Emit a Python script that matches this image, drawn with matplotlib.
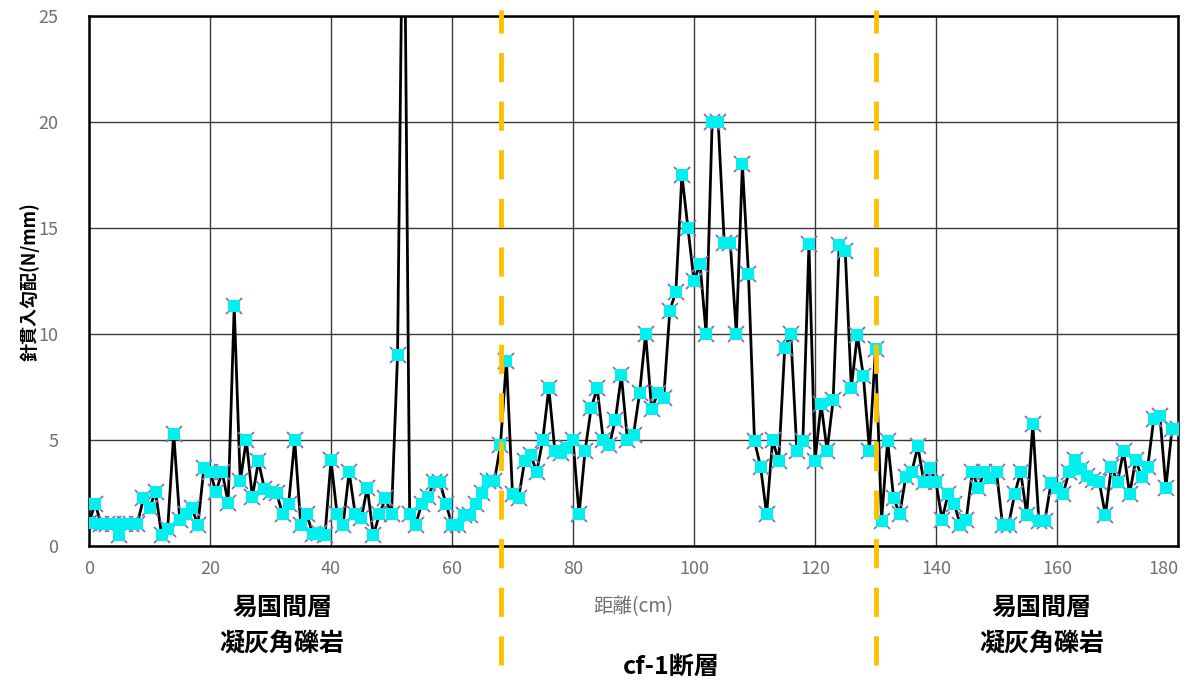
import matplotlib
matplotlib.use("Agg")
import matplotlib.pyplot as plt
import matplotlib.transforms as mtransforms

# ---- data ----
distance = list(range(0, 181))
gradient = [
    1.1, 2.0, 1.05, 1.05, 1.05, 0.5, 1.05, 1.05, 1.05, 2.25,
    1.8, 2.55, 0.5, 0.8, 5.3, 1.25, 1.5, 1.8, 1.0, 3.7,
    3.5, 2.55, 3.5, 2.05, 11.3, 3.05, 5.0, 2.3, 4.0, 2.7,
    2.55, 2.5, 1.5, 2.0, 5.0, 1.0, 1.5, 0.55, 0.6, 0.5,
    4.05, 1.5, 1.0, 3.5, 1.5, 1.3, 2.75, 0.5, 1.5, 2.25,
    1.5, 9.0, 35.0, 1.5, 1.0, 2.0, 2.3, 3.0, 3.0, 2.0,
    1.0, 1.0, 1.45, 1.45, 2.0, 2.5, 3.05, 3.05, 4.75, 8.75,
    2.45, 2.25, 4.0, 4.3, 3.5, 5.0, 7.45, 4.5, 4.4, 4.6,
    5.0, 1.5, 4.5, 6.5, 7.45, 5.0, 4.75, 5.95, 8.05, 5.0,
    5.25, 7.2, 10.0, 6.45, 7.2, 7.0, 11.1, 12.0, 17.5, 15.0,
    12.5, 13.3, 10.0, 20.0, 20.0, 14.3, 14.3, 10.0, 18.0, 12.85,
    4.95, 3.75, 1.5, 5.0, 4.0, 9.35, 10.0, 4.5, 4.95, 14.25,
    4.0, 6.7, 4.5, 6.9, 14.2, 13.9, 7.45, 9.95, 8.0, 4.5,
    9.3, 1.2, 4.95, 2.25, 1.5, 3.25, 3.5, 4.7, 3.0, 3.7,
    3.0, 1.25, 2.45, 2.0, 1.0, 1.25, 3.5, 2.75, 3.5, 3.2,
    3.5, 1.0, 1.0, 2.45, 3.5, 1.45, 5.75, 1.2, 1.2, 2.95,
    2.75, 2.45, 3.5, 4.05, 3.65, 3.3, 3.1, 3.0, 1.45, 3.75,
    3.0, 4.5, 2.45, 4.05, 3.25, 3.75, 6.0, 6.15, 2.75, 5.5,
    5.5,
]
x_ticks = [0, 20, 40, 60, 80, 100, 120, 140, 160, 180]
y_ticks = [0, 5, 10, 15, 20, 25]
boundaries = [68.1, 130.1]
zone_labels_left = ["易国間層", "凝灰角礫岩"]
zone_labels_right = ["易国間層", "凝灰角礫岩"]
fault_label = "cf-1断層"
x_label = "距離(cm)"
y_label = "針貫入勾配(N/mm)"

JP = ["Noto Sans CJK JP", "DejaVu Sans"]
plt.rcParams["font.family"] = JP

fig = plt.figure(figsize=(11.89, 6.82), dpi=100)
ax = fig.add_axes([89 / 1189, 1 - 546 / 682, (1178 - 89) / 1189, (546 - 16) / 682])

ax.plot(distance, gradient, color="black", lw=2.0, zorder=3, clip_on=True)
ax.plot(distance, gradient, ls="none", marker="x", ms=12, mew=1.3,
        color="#8A6BB0", zorder=4)
ax.plot(distance, gradient, ls="none", marker="s", ms=8.5, mew=0,
        color="#00F0F0", zorder=5)

ax.set_xlim(0, 180)
ax.set_ylim(0, 25)
ax.set_xticks(x_ticks)
ax.set_yticks(y_ticks)
ax.grid(True, color="#3a3a3a", lw=1.0)
ax.set_axisbelow(True)
for s in ax.spines.values():
    s.set_color("black")
    s.set_linewidth(1.8)
ax.tick_params(length=0, labelsize=13, labelcolor="#707070", pad=10)
ax.tick_params(axis="y", pad=22)
last = ax.get_xticklabels()[-1]
last.set_horizontalalignment("right")
last.set_x(0)

# axis labels
ax.text(0.5, -0.115, x_label, transform=ax.transAxes, ha="center", va="center",
        fontsize=14, color="#707070")
fig.text(30 / 1189, 1 - 282 / 682, y_label, rotation=90, ha="center", va="center",
         fontsize=13, fontweight="bold", color="black")

# boundaries
trans = mtransforms.blended_transform_factory(ax.transData, ax.transAxes)
for b in boundaries:
    ax.plot([b, b], [-0.225, 1.012], transform=trans, color="#FFC000", lw=3.5,
            ls=(0, (6, 4)), clip_on=False, zorder=6)

# zone labels
for xc, labels in [(31.9, zone_labels_left), (157.5, zone_labels_right)]:
    ax.text(xc, -0.117, labels[0], transform=trans, ha="center", va="center",
            fontsize=18, fontweight="bold", color="black")
    ax.text(xc, -0.185, labels[1], transform=trans, ha="center", va="center",
            fontsize=18, fontweight="bold", color="black")
ax.text(96.2, -0.229, fault_label, transform=trans, ha="center", va="center",
        fontsize=18, fontweight="bold", color="black")

fig.savefig("out.png", dpi=100)
